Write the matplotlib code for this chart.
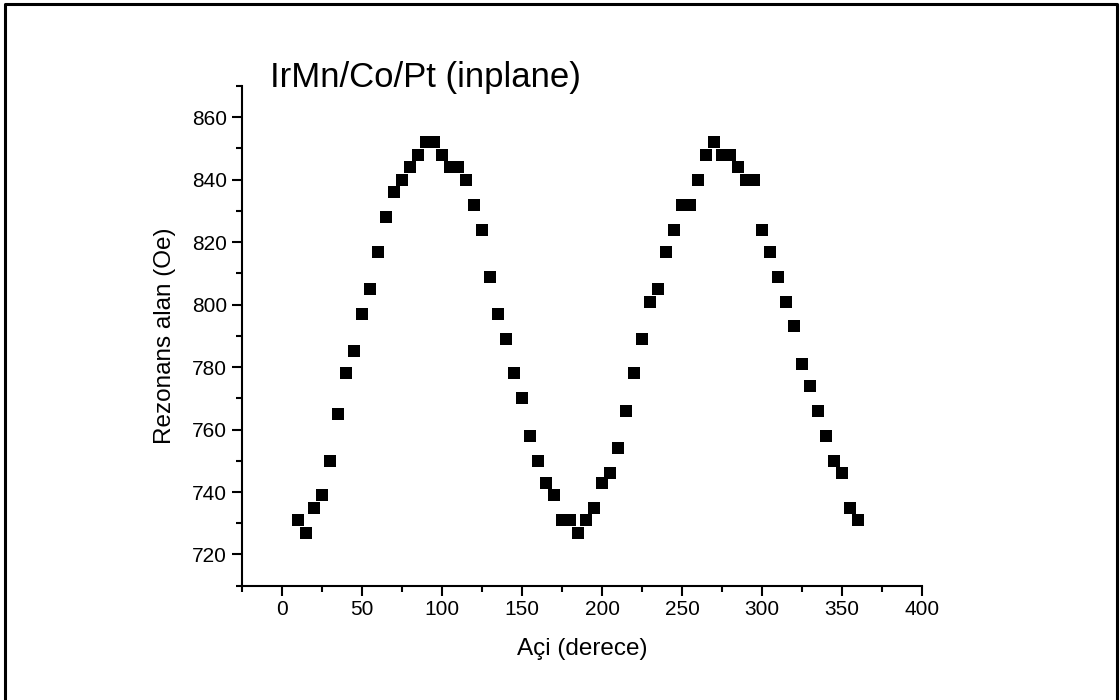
import numpy as np
import matplotlib.pyplot as plt
from matplotlib.ticker import MultipleLocator
from matplotlib.lines import Line2D

plt.rcParams['font.family'] = ['Liberation Sans', 'DejaVu Sans']

# angle (degree) and resonance field (Oe)
angle = [10, 15, 20, 25, 30, 35, 40, 45, 50, 55, 60, 65, 70, 75, 80, 85, 90, 95,
         100, 105, 110, 115, 120, 125, 130, 135, 140, 145, 150, 155, 160, 165,
         170, 175, 180, 185, 190, 195, 200, 205, 210, 215, 220, 225, 230, 235,
         240, 245, 250, 255, 260, 265, 270, 275, 280, 285, 290, 295, 300, 305,
         310, 315, 320, 325, 330, 335, 340, 345, 350, 355, 360]
field = [731, 727, 735, 739, 750, 765, 778, 785, 797, 805, 817, 828, 836, 840,
         844, 848, 852, 852, 848, 844, 844, 840, 832, 824, 809, 797, 789, 778,
         770, 758, 750, 743, 739, 731, 731, 727, 731, 735, 743, 746, 754, 766,
         778, 789, 801, 805, 817, 824, 832, 832, 840, 848, 852, 848, 848, 844,
         840, 840, 824, 817, 809, 801, 793, 781, 774, 766, 758, 750, 746, 735,
         731]

fig = plt.figure(figsize=(11.2, 7), dpi=100)
ax = fig.add_axes([0.2158, 0.1633, 0.6077, 0.7138])

ax.plot(angle, field, 's', color='black', markersize=8, markeredgewidth=0)

ax.set_xlim(-25, 400)
ax.set_ylim(710, 870)
ax.xaxis.set_major_locator(MultipleLocator(50))
ax.xaxis.set_minor_locator(MultipleLocator(25))
ax.yaxis.set_major_locator(MultipleLocator(20))
ax.yaxis.set_minor_locator(MultipleLocator(10))

for s in ['top', 'right']:
    ax.spines[s].set_visible(False)
for s in ['left', 'bottom']:
    ax.spines[s].set_linewidth(1.5)
ax.tick_params(which='major', direction='out', length=7, width=1.5, labelsize=15)
ax.tick_params(which='minor', direction='out', length=4, width=1.5)

ax.set_xlabel('Açi (derece)', fontsize=17.5)
ax.set_ylabel('Rezonans alan (Oe)', fontsize=17.5)
ax.xaxis.set_label_coords(0.5, -0.105)
ax.yaxis.set_label_coords(-0.097, 0.5)

fig.text(270 / 1120, 1 - 87 / 700, 'IrMn/Co/Pt (inplane)', fontsize=25,
         ha='left', va='baseline')

# outer frame (bottom edge lies outside the picture)
fig.add_artist(Line2D([0.0045, 0.0045, 0.9973, 0.9973], [-0.1, 0.9943, 0.9943, -0.1],
                      transform=fig.transFigure, color='black', linewidth=2.2))

fig.savefig('out.png', dpi=100)
